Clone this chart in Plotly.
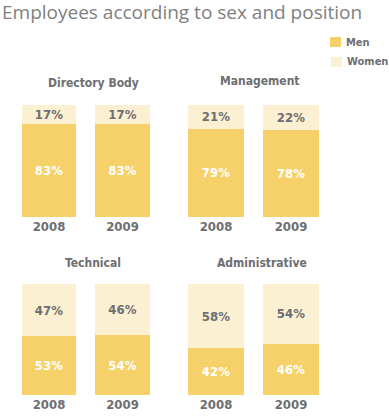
import plotly.graph_objects as go

years = ["2008", "2009"]
groups = ["Directory Body", "Management", "Technical", "Administrative"]
men = {
    "Directory Body": [83, 83],
    "Management": [79, 78],
    "Technical": [53, 54],
    "Administrative": [42, 46],
}
women = {
    "Directory Body": [17, 17],
    "Management": [21, 22],
    "Technical": [47, 46],
    "Administrative": [58, 54],
}
series_names = ["Men", "Women"]
title_text = "Employees according to sex and position"

W, H = 389, 417
MEN_C = "#F6D169"
WOMEN_C = "#FCF0D3"
GRAY = "#6D6E71"
COND = "DejaVu Sans Condensed, DejaVu Sans, sans-serif"

# panel layout in pixels: (x_left, x_right, y_top, y_bottom)
panels = [
    (12.25, 159.25, 105, 217),
    (178.5, 328.5, 105, 217),
    (12.25, 159.25, 284, 395),
    (178.5, 328.5, 284, 395),
]
title_pos = [(93, 83), (259, 81), (93, 263), (262, 263)]

fig = go.Figure()
annotations = []
layout_axes = {}
for i, g in enumerate(groups):
    sfx = "" if i == 0 else str(i + 1)
    xa, ya = "x" + sfx, "y" + sfx
    fig.add_trace(go.Bar(
        x=years, y=men[g], name=series_names[0], marker_color=MEN_C,
        marker_line_width=0, width=0.735, xaxis=xa, yaxis=ya,
        text=[f"{v}%" for v in men[g]], textposition="inside",
        insidetextanchor="middle", textangle=0,
        textfont=dict(family=COND, size=13, color="white", weight="bold"),
        showlegend=False, hoverinfo="skip",
    ))
    fig.add_trace(go.Bar(
        x=years, y=women[g], name=series_names[1], marker_color=WOMEN_C,
        marker_line_width=0, width=0.735, xaxis=xa, yaxis=ya,
        text=[f"{v}%" for v in women[g]], textposition="inside",
        insidetextanchor="middle", textangle=0,
        textfont=dict(family=COND, size=13, color=GRAY, weight="bold"),
        showlegend=False, hoverinfo="skip",
    ))
    x0, x1, yt, yb = panels[i]
    layout_axes["xaxis" + sfx] = dict(
        domain=[x0 / W, x1 / W], anchor=ya, type="category",
        range=[-0.5, 1.5], showgrid=False, zeroline=False, showline=False,
        ticks="", tickfont=dict(family=COND, size=13, color=GRAY, weight="bold"),
        fixedrange=True,
    )
    layout_axes["yaxis" + sfx] = dict(
        domain=[(H - yb) / H, (H - yt) / H], anchor=xa, range=[0, 100],
        showgrid=False, zeroline=False, showline=False, showticklabels=False,
        fixedrange=True,
    )
    tx, ty = title_pos[i]
    annotations.append(dict(
        text=g, x=tx / W, y=1 - ty / H, xref="paper", yref="paper",
        showarrow=False, xanchor="center", yanchor="middle",
        font=dict(family=COND, size=12, color=GRAY, weight="bold"),
    ))

# legend drawn manually
shapes = []
leg = [(330, 37, MEN_C), (331, 57, WOMEN_C)]
for (lx, ly, c), nm in zip(leg, series_names):
    shapes.append(dict(type="rect", xref="paper", yref="paper",
                       x0=lx / W, x1=(lx + 11) / W, y0=1 - (ly + 10) / H, y1=1 - ly / H,
                       fillcolor=c, line_width=0))
    annotations.append(dict(
        text=nm, x=(lx + 14) / W, y=1 - (ly + 5) / H,
        xref="paper", yref="paper", showarrow=False, xanchor="left", yanchor="middle",
        font=dict(family=COND, size=11, color=GRAY, weight="bold"),
    ))

fig.update_layout(
    width=W, height=H, margin=dict(l=0, r=0, t=0, b=0),
    paper_bgcolor="white", plot_bgcolor="white",
    barmode="stack", bargap=0,
    title=dict(text=title_text, x=2 / W, xanchor="left", y=1 - 12 / H, yanchor="middle",
               font=dict(family="Open Sans, sans-serif", size=19, color="#808080")),
    annotations=annotations, shapes=shapes, showlegend=False,
    uniformtext=dict(mode="show", minsize=13),
    **layout_axes,
)
fig.write_html("out.html", config={"displayModeBar": False, "staticPlot": True},
               post_script="document.body.style.margin='0';document.body.style.overflow='hidden';")
